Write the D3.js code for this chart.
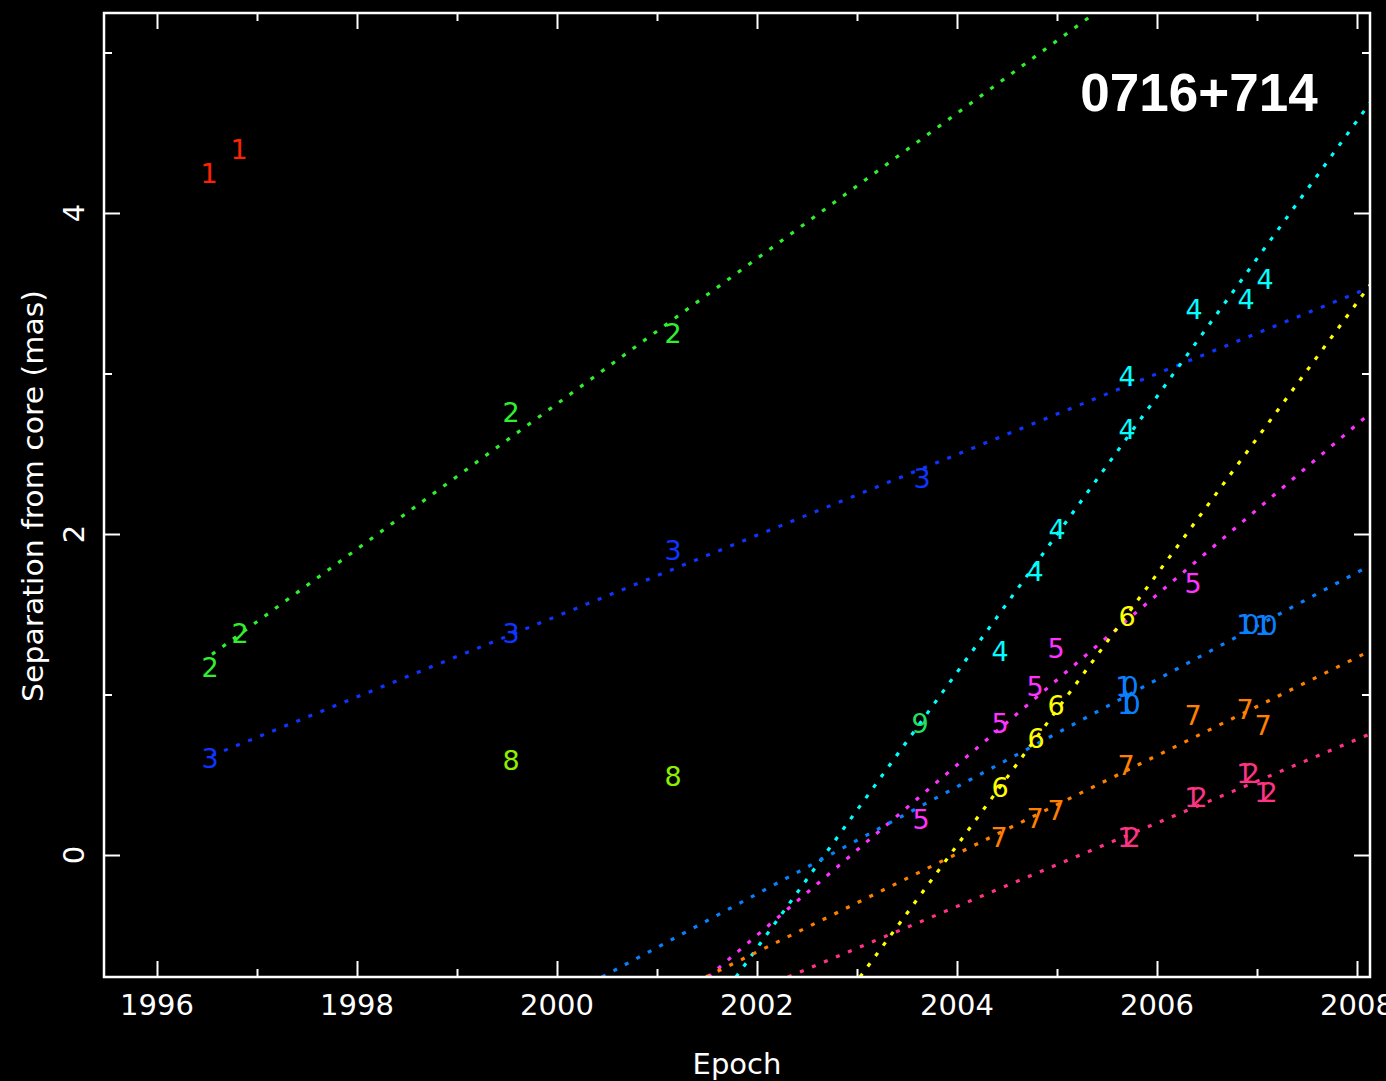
<!DOCTYPE html>
<html>
<head>
<meta charset="utf-8">
<script src="https://cdn.jsdelivr.net/npm/d3@7"></script>
<style>
  html, body { margin: 0; padding: 0; background: #000; }
  svg { display: block; }
</style>
</head>
<body>
<div id="chart"></div>
<script>
// component ids as printed on the plot
var componentIds = ["1", "2", "3", "4", "5", "6", "7", "8", "9", "10", "12"];

// measured epochs (yr) and core separations (mas) per component
var epochs1 = [1996.52, 1996.82];
var sep1 = [4.25, 4.40];
var epochs2 = [1996.53, 1996.83, 1999.54, 2001.16];
var sep2 = [1.17, 1.38, 2.76, 3.25];
var epochs3 = [1996.53, 1999.54, 2001.16, 2003.65];
var sep3 = [0.60, 1.38, 1.90, 2.35];
var epochs4 = [2004.43, 2004.78, 2005.00, 2005.70, 2005.70, 2006.37, 2006.89, 2007.08];
var sep4 = [1.27, 1.77, 2.03, 2.65, 2.98, 3.40, 3.46, 3.59];
var epochs5 = [2003.64, 2004.43, 2004.78, 2004.99, 2006.36];
var sep5 = [0.22, 0.82, 1.05, 1.29, 1.69];
var epochs6 = [2004.43, 2004.79, 2004.99, 2005.70];
var sep6 = [0.42, 0.73, 0.93, 1.49];
var epochs7 = [2004.42, 2004.78, 2004.99, 2005.69, 2006.36, 2006.88, 2007.06];
var sep7 = [0.11, 0.23, 0.28, 0.56, 0.87, 0.91, 0.81];
var epochs8 = [1999.54, 2001.16];
var sep8 = [0.59, 0.49];
var epochs9 = [2003.63];
var sep9 = [0.82];
var epochs10 = [2005.72, 2005.70, 2006.91, 2007.09];
var sep10 = [0.94, 1.05, 1.44, 1.43];
var epochs12 = [2005.72, 2006.39, 2006.91, 2007.09];
var sep12 = [0.11, 0.36, 0.51, 0.39];

// linear fits (start/end epoch and separation), clipped by the frame
var fitIds = ["2", "3", "4", "5", "6", "10", "7", "12"];
var fitT0 = [1996.55, 1996.55, 2001.79, 2001.51, 2003.03, 2000.45, 2001.49, 2002.31];
var fitR0 = [1.25, 0.62, -0.76, -0.76, -0.76, -0.76, -0.76, -0.76];
var fitT1 = [2008.13, 2008.13, 2008.13, 2008.13, 2008.13, 2008.13, 2008.13, 2008.13];
var fitR1 = [6.49, 3.535, 4.686, 2.752, 3.551, 1.804, 1.271, 0.754];

var xMajor = [1996, 1998, 2000, 2002, 2004, 2006, 2008];
var xMinor = [1997, 1999, 2001, 2003, 2005, 2007];
var yMajor = [0, 2, 4];
var yMinor = [1, 3, 5];

var colors = {
  "1": "#ff2200", "2": "#30ee30", "3": "#1034ff", "4": "#00ffff",
  "5": "#ff33ff", "6": "#ffff00", "7": "#ff8000", "8": "#8cf000",
  "9": "#22e066", "10": "#0a80ff", "12": "#ff3384"
};

var obsEpochs = [epochs1, epochs2, epochs3, epochs4, epochs5, epochs6, epochs7, epochs8, epochs9, epochs10, epochs12];
var obsSeps = [sep1, sep2, sep3, sep4, sep5, sep6, sep7, sep8, sep9, sep10, sep12];

var points = [];
componentIds.forEach(function (id, k) {
  obsEpochs[k].forEach(function (t, i) {
    points.push({ id: id, t: t, r: obsSeps[k][i] });
  });
});
var fits = fitIds.map(function (id, k) {
  return { id: id, pts: [[fitT0[k], fitR0[k]], [fitT1[k], fitR1[k]]] };
});

var W = 1386, H = 1081;
var plotL = 104, plotR = 1370, plotT = 13, plotB = 977;

var svg = d3.select("#chart").append("svg")
  .attr("width", W).attr("height", H)
  .style("background", "#000");

var x = d3.scaleLinear().domain([1995.47, 2008.13]).range([plotL, plotR]);
var y = d3.scaleLinear().domain([-0.76, 5.246]).range([plotB, plotT]);

svg.append("clipPath").attr("id", "plotclip")
  .append("rect").attr("x", plotL).attr("y", plotT)
  .attr("width", plotR - plotL).attr("height", plotB - plotT);

var font = "'DejaVu Sans', sans-serif";

// fitted tracks
var line = d3.line().x(function (d) { return x(d[0]); }).y(function (d) { return y(d[1]); });
svg.append("g").attr("clip-path", "url(#plotclip)")
  .selectAll("path").data(fits).enter().append("path")
  .attr("d", function (d) { return line(d.pts); })
  .attr("fill", "none")
  .attr("stroke", function (d) { return colors[d.id]; })
  .attr("stroke-width", 3.2)
  .attr("stroke-dasharray", "4 9");

// component numbers as markers
svg.append("g").selectAll("text").data(points).enter().append("text")
  .attr("x", function (d) { return x(d.t); })
  .attr("y", function (d) { return y(d.r); })
  .attr("dy", "0.36em")
  .attr("text-anchor", "middle")
  .attr("fill", function (d) { return colors[d.id]; })
  .style("font-family", font)
  .style("font-size", "27px")
  .style("letter-spacing", function (d) { return d.id.length > 1 ? "-0.4em" : null; })
  .attr("dx", function (d) { return d.id.length > 1 ? "-0.2em" : null; })
  .text(function (d) { return d.id; });

// axes with inward ticks on all four sides
function styleAxis(g) {
  g.select(".domain").remove();
  g.selectAll("line").attr("stroke", "#fff").attr("stroke-width", 2);
  g.selectAll("text").remove();
}
svg.append("g").attr("transform", "translate(0," + plotB + ")")
  .call(d3.axisBottom(x).tickValues(xMajor).tickSize(-16)).call(styleAxis);
svg.append("g").attr("transform", "translate(0," + plotB + ")")
  .call(d3.axisBottom(x).tickValues(xMinor).tickSize(-8)).call(styleAxis);
svg.append("g").attr("transform", "translate(0," + plotT + ")")
  .call(d3.axisTop(x).tickValues(xMajor).tickSize(-16)).call(styleAxis);
svg.append("g").attr("transform", "translate(0," + plotT + ")")
  .call(d3.axisTop(x).tickValues(xMinor).tickSize(-8)).call(styleAxis);
svg.append("g").attr("transform", "translate(" + plotL + ",0)")
  .call(d3.axisLeft(y).tickValues(yMajor).tickSize(-16)).call(styleAxis);
svg.append("g").attr("transform", "translate(" + plotL + ",0)")
  .call(d3.axisLeft(y).tickValues(yMinor).tickSize(-8)).call(styleAxis);
svg.append("g").attr("transform", "translate(" + plotR + ",0)")
  .call(d3.axisRight(y).tickValues(yMajor).tickSize(-16)).call(styleAxis);
svg.append("g").attr("transform", "translate(" + plotR + ",0)")
  .call(d3.axisRight(y).tickValues(yMinor).tickSize(-8)).call(styleAxis);

svg.append("rect")
  .attr("x", plotL).attr("y", plotT)
  .attr("width", plotR - plotL).attr("height", plotB - plotT)
  .attr("fill", "none").attr("stroke", "#fff").attr("stroke-width", 2.5);

// tick labels
svg.append("g").selectAll("text").data(xMajor).enter().append("text")
  .attr("x", function (d) { return x(d); })
  .attr("y", 1015)
  .attr("text-anchor", "middle")
  .attr("fill", "#fff")
  .style("font-family", font)
  .style("font-size", "29px")
  .text(function (d) { return d; });

svg.append("g").selectAll("text").data(yMajor).enter().append("text")
  .attr("transform", function (d) { return "translate(84," + y(d) + ") rotate(-90)"; })
  .attr("text-anchor", "middle")
  .attr("fill", "#fff")
  .style("font-family", font)
  .style("font-size", "29px")
  .text(function (d) { return d; });

// axis titles
svg.append("text")
  .attr("x", 737).attr("y", 1074)
  .attr("text-anchor", "middle")
  .attr("fill", "#fff")
  .style("font-family", font)
  .style("font-size", "29px")
  .text("Epoch");

svg.append("text")
  .attr("transform", "translate(43,496) rotate(-90)")
  .attr("text-anchor", "middle")
  .attr("fill", "#fff")
  .style("font-family", font)
  .style("font-size", "29px")
  .attr("textLength", 412)
  .attr("lengthAdjust", "spacingAndGlyphs")
  .text("Separation from core (mas)");

// source name
svg.append("text")
  .attr("x", 1199).attr("y", 111)
  .attr("text-anchor", "middle")
  .attr("fill", "#fff")
  .style("font-family", "'Liberation Sans', Arial, sans-serif")
  .style("font-weight", "bold")
  .style("font-size", "53px")
  .text("0716+714");
</script>
</body>
</html>
